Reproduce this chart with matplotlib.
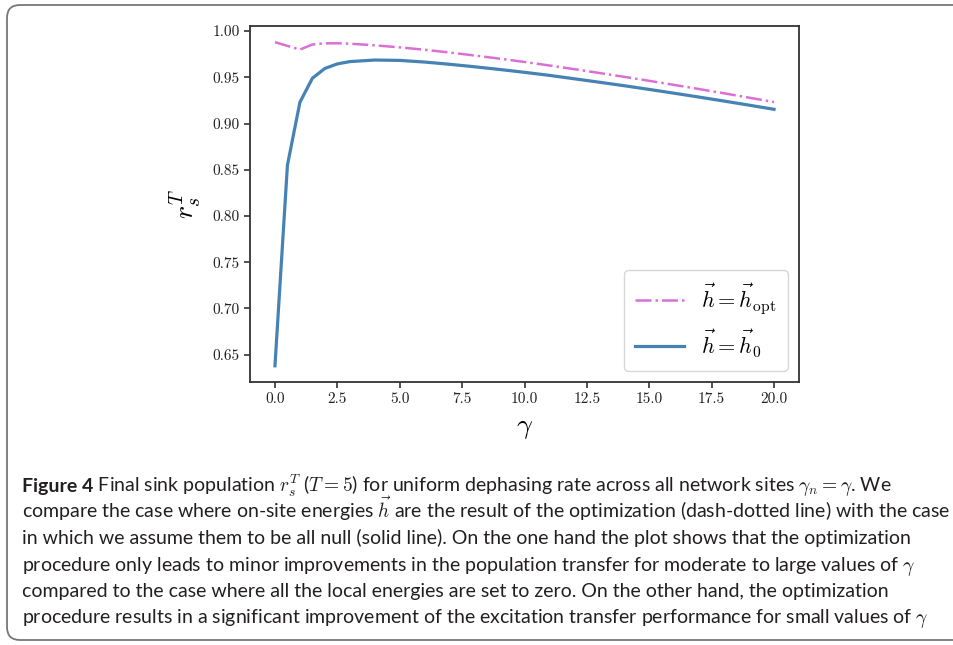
import matplotlib
matplotlib.use('Agg')
import matplotlib.pyplot as plt
from matplotlib.path import Path
from matplotlib.patches import PathPatch

plt.rcParams['font.family'] = 'serif'
plt.rcParams['font.serif'] = ['cmr10']
plt.rcParams['mathtext.fontset'] = 'cm'
plt.rcParams['axes.formatter.use_mathtext'] = True

# dephasing rate gamma
gamma = [0, 0.5, 1, 1.5, 2, 2.5, 3, 4, 5, 6, 7, 8, 9, 10,
         11, 12, 13, 14, 15, 16, 17, 18, 19, 20]
# final sink population, optimised on-site energies
r_opt = [0.988, 0.984, 0.980, 0.9855, 0.9868, 0.9868, 0.9864, 0.9846, 0.9824, 0.9798,
         0.9768, 0.9736, 0.9702, 0.9666, 0.9628, 0.9588, 0.9547, 0.9505, 0.9462, 0.9418,
         0.9373, 0.9327, 0.9280, 0.9232]
# final sink population, all on-site energies zero
r_zero = [0.638, 0.855, 0.923, 0.949, 0.9596, 0.9645, 0.967, 0.9687, 0.9683, 0.9665,
          0.9641, 0.9614, 0.9585, 0.9554, 0.9521, 0.9484, 0.9447, 0.9409, 0.9369, 0.9328,
          0.9286, 0.9243, 0.9199, 0.9154]

caption_head = 'Figure 4'
caption_lines = [
    r' Final sink population $r_s^T$ ($T = 5$) for uniform dephasing rate across all network sites $\gamma_n = \gamma$. We',
    r'compare the case where on-site energies $\vec{h}$ are the result of the optimization (dash-dotted line) with the case',
    r'in which we assume them to be all null (solid line). On the one hand the plot shows that the optimization',
    r'procedure only leads to minor improvements in the population transfer for moderate to large values of $\gamma$',
    r'compared to the case where all the local energies are set to zero. On the other hand, the optimization',
    r'procedure results in a significant improvement of the excitation transfer performance for small values of $\gamma$',
]

W, H = 954, 645
fig = plt.figure(figsize=(W / 100, H / 100), dpi=100)
ax = fig.add_axes([250 / W, 1 - 382 / H, 549 / W, 356 / H])

ax.plot(gamma, r_opt, color='orchid', linestyle='-.', linewidth=1.8, label=r'$\vec{h} = \vec{h}_{\rm opt}$')
ax.plot(gamma, r_zero, color='steelblue', linestyle='-', linewidth=2.3, label=r'$\vec{h} = \vec{h}_0$')

ax.set_xticks([0, 2.5, 5, 7.5, 10, 12.5, 15, 17.5, 20])
ax.set_xticklabels(['0.0', '2.5', '5.0', '7.5', '10.0', '12.5', '15.0', '17.5', '20.0'])
ax.set_yticks([0.65, 0.70, 0.75, 0.80, 0.85, 0.90, 0.95, 1.00])
ax.set_yticklabels(['0.65', '0.70', '0.75', '0.80', '0.85', '0.90', '0.95', '1.00'])
ax.tick_params(labelsize=11, length=4, width=1.1, colors='#222222')
for s in ax.spines.values():
    s.set_linewidth(1.3)
    s.set_color('#333333')

ax.set_xlabel(r'$\gamma$', fontsize=20, labelpad=6)
ax.set_ylabel(r'$r_s^T$', fontsize=20, labelpad=6)
ax.legend(loc='lower right', fontsize=16, handlelength=2.2, borderpad=0.5)

# outer frame: rounded on the left, runs off the right edge
x0, top, bot, r = 0.07, H / 100 - 0.05, 0.05, 0.13
xr = W / 100 + 0.5
verts = [(xr, top), (x0 + r, top), (x0, top), (x0, top - r), (x0, bot + r),
         (x0, bot), (x0 + r, bot), (xr, bot)]
codes = [Path.MOVETO, Path.LINETO, Path.CURVE3, Path.CURVE3, Path.LINETO,
         Path.CURVE3, Path.CURVE3, Path.LINETO]
frame = PathPatch(Path(verts, codes), transform=fig.dpi_scale_trans, fill=False,
                  edgecolor='#777777', linewidth=1.3, clip_on=False)
fig.patches.append(frame)

cap_font = ['Lato', 'DejaVu Sans']
fs = 14.0
y0 = 492
step = 26.2
head = fig.text(22 / W, 1 - y0 / H, caption_head, family=cap_font, fontweight='bold',
                fontsize=fs, color='#231f20', va='baseline')
fig.canvas.draw()
bb = head.get_window_extent()
fig.text(bb.x1 / W, 1 - y0 / H, caption_lines[0], family=cap_font, fontsize=fs,
         color='#231f20', va='baseline')
for i, line in enumerate(caption_lines[1:], start=1):
    fig.text(22 / W, 1 - (y0 + i * step) / H, line, family=cap_font, fontsize=fs,
             color='#231f20', va='baseline')

fig.savefig('out.png', dpi=100)
